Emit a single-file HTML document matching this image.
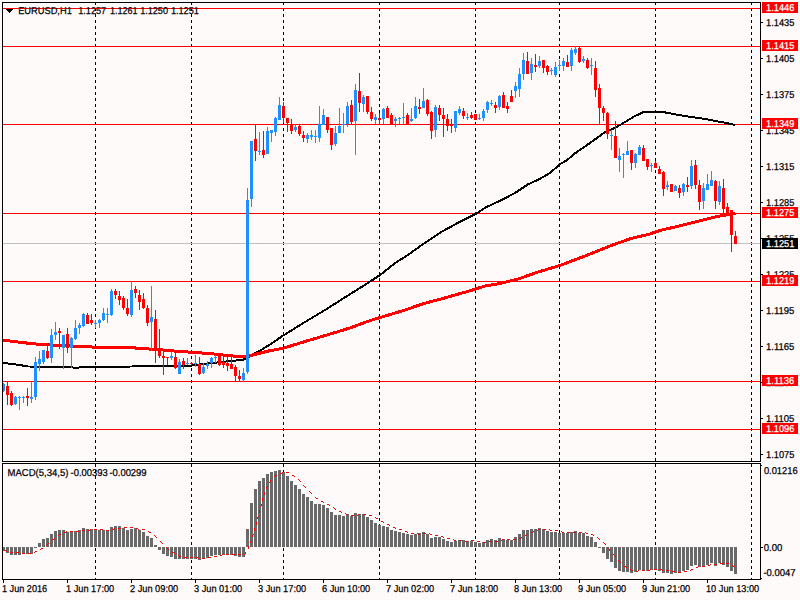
<!DOCTYPE html><html><head><meta charset="utf-8"><style>html,body{margin:0;padding:0;background:#FFFAFA;overflow:hidden}svg{display:block}text{font-family:"Liberation Sans", sans-serif;text-rendering:geometricPrecision}</style></head><body>
<svg width="800" height="600" viewBox="0 0 800 600">
<rect x="0" y="0" width="800" height="600" fill="#FFFAFA"/>
<g fill="#FFFFFF" shape-rendering="crispEdges">
<rect x="3" y="3" width="757" height="1"/><rect x="3" y="3" width="1" height="458"/>
<rect x="3" y="464" width="757" height="1"/><rect x="3" y="464" width="1" height="115"/>
</g>
<path fill="#000" shape-rendering="crispEdges" d="M95 3h1v2h-1zM95 8h1v3h-1zM95 14h1v3h-1zM95 20h1v3h-1zM95 26h1v3h-1zM95 32h1v3h-1zM95 38h1v3h-1zM95 44h1v3h-1zM95 50h1v3h-1zM95 56h1v3h-1zM95 62h1v3h-1zM95 68h1v3h-1zM95 74h1v3h-1zM95 80h1v3h-1zM95 86h1v3h-1zM95 92h1v3h-1zM95 98h1v3h-1zM95 104h1v3h-1zM95 110h1v3h-1zM95 116h1v3h-1zM95 122h1v3h-1zM95 128h1v3h-1zM95 134h1v3h-1zM95 140h1v3h-1zM95 146h1v3h-1zM95 152h1v3h-1zM95 158h1v3h-1zM95 164h1v3h-1zM95 170h1v3h-1zM95 176h1v3h-1zM95 182h1v3h-1zM95 188h1v3h-1zM95 194h1v3h-1zM95 200h1v3h-1zM95 206h1v3h-1zM95 212h1v3h-1zM95 218h1v3h-1zM95 224h1v3h-1zM95 230h1v3h-1zM95 236h1v3h-1zM95 242h1v3h-1zM95 248h1v3h-1zM95 254h1v3h-1zM95 260h1v3h-1zM95 266h1v3h-1zM95 272h1v3h-1zM95 278h1v3h-1zM95 284h1v3h-1zM95 290h1v3h-1zM95 296h1v3h-1zM95 302h1v3h-1zM95 308h1v3h-1zM95 314h1v3h-1zM95 320h1v3h-1zM95 326h1v3h-1zM95 332h1v3h-1zM95 338h1v3h-1zM95 344h1v3h-1zM95 350h1v3h-1zM95 356h1v3h-1zM95 362h1v3h-1zM95 368h1v3h-1zM95 374h1v3h-1zM95 380h1v3h-1zM95 386h1v3h-1zM95 392h1v3h-1zM95 398h1v3h-1zM95 404h1v3h-1zM95 410h1v3h-1zM95 416h1v3h-1zM95 422h1v3h-1zM95 428h1v3h-1zM95 434h1v3h-1zM95 440h1v3h-1zM95 446h1v3h-1zM95 452h1v3h-1zM95 458h1v3h-1zM95 464h1v3h-1zM95 470h1v3h-1zM95 476h1v3h-1zM95 482h1v3h-1zM95 488h1v3h-1zM95 494h1v3h-1zM95 500h1v3h-1zM95 506h1v3h-1zM95 512h1v3h-1zM95 518h1v3h-1zM95 524h1v3h-1zM95 530h1v3h-1zM95 536h1v3h-1zM95 542h1v3h-1zM95 548h1v3h-1zM95 554h1v3h-1zM95 560h1v3h-1zM95 566h1v3h-1zM95 572h1v3h-1zM95 578h1v1h-1zM191 3h1v2h-1zM191 8h1v3h-1zM191 14h1v3h-1zM191 20h1v3h-1zM191 26h1v3h-1zM191 32h1v3h-1zM191 38h1v3h-1zM191 44h1v3h-1zM191 50h1v3h-1zM191 56h1v3h-1zM191 62h1v3h-1zM191 68h1v3h-1zM191 74h1v3h-1zM191 80h1v3h-1zM191 86h1v3h-1zM191 92h1v3h-1zM191 98h1v3h-1zM191 104h1v3h-1zM191 110h1v3h-1zM191 116h1v3h-1zM191 122h1v3h-1zM191 128h1v3h-1zM191 134h1v3h-1zM191 140h1v3h-1zM191 146h1v3h-1zM191 152h1v3h-1zM191 158h1v3h-1zM191 164h1v3h-1zM191 170h1v3h-1zM191 176h1v3h-1zM191 182h1v3h-1zM191 188h1v3h-1zM191 194h1v3h-1zM191 200h1v3h-1zM191 206h1v3h-1zM191 212h1v3h-1zM191 218h1v3h-1zM191 224h1v3h-1zM191 230h1v3h-1zM191 236h1v3h-1zM191 242h1v3h-1zM191 248h1v3h-1zM191 254h1v3h-1zM191 260h1v3h-1zM191 266h1v3h-1zM191 272h1v3h-1zM191 278h1v3h-1zM191 284h1v3h-1zM191 290h1v3h-1zM191 296h1v3h-1zM191 302h1v3h-1zM191 308h1v3h-1zM191 314h1v3h-1zM191 320h1v3h-1zM191 326h1v3h-1zM191 332h1v3h-1zM191 338h1v3h-1zM191 344h1v3h-1zM191 350h1v3h-1zM191 356h1v3h-1zM191 362h1v3h-1zM191 368h1v3h-1zM191 374h1v3h-1zM191 380h1v3h-1zM191 386h1v3h-1zM191 392h1v3h-1zM191 398h1v3h-1zM191 404h1v3h-1zM191 410h1v3h-1zM191 416h1v3h-1zM191 422h1v3h-1zM191 428h1v3h-1zM191 434h1v3h-1zM191 440h1v3h-1zM191 446h1v3h-1zM191 452h1v3h-1zM191 458h1v3h-1zM191 464h1v3h-1zM191 470h1v3h-1zM191 476h1v3h-1zM191 482h1v3h-1zM191 488h1v3h-1zM191 494h1v3h-1zM191 500h1v3h-1zM191 506h1v3h-1zM191 512h1v3h-1zM191 518h1v3h-1zM191 524h1v3h-1zM191 530h1v3h-1zM191 536h1v3h-1zM191 542h1v3h-1zM191 548h1v3h-1zM191 554h1v3h-1zM191 560h1v3h-1zM191 566h1v3h-1zM191 572h1v3h-1zM191 578h1v1h-1zM283 3h1v2h-1zM283 8h1v3h-1zM283 14h1v3h-1zM283 20h1v3h-1zM283 26h1v3h-1zM283 32h1v3h-1zM283 38h1v3h-1zM283 44h1v3h-1zM283 50h1v3h-1zM283 56h1v3h-1zM283 62h1v3h-1zM283 68h1v3h-1zM283 74h1v3h-1zM283 80h1v3h-1zM283 86h1v3h-1zM283 92h1v3h-1zM283 98h1v3h-1zM283 104h1v3h-1zM283 110h1v3h-1zM283 116h1v3h-1zM283 122h1v3h-1zM283 128h1v3h-1zM283 134h1v3h-1zM283 140h1v3h-1zM283 146h1v3h-1zM283 152h1v3h-1zM283 158h1v3h-1zM283 164h1v3h-1zM283 170h1v3h-1zM283 176h1v3h-1zM283 182h1v3h-1zM283 188h1v3h-1zM283 194h1v3h-1zM283 200h1v3h-1zM283 206h1v3h-1zM283 212h1v3h-1zM283 218h1v3h-1zM283 224h1v3h-1zM283 230h1v3h-1zM283 236h1v3h-1zM283 242h1v3h-1zM283 248h1v3h-1zM283 254h1v3h-1zM283 260h1v3h-1zM283 266h1v3h-1zM283 272h1v3h-1zM283 278h1v3h-1zM283 284h1v3h-1zM283 290h1v3h-1zM283 296h1v3h-1zM283 302h1v3h-1zM283 308h1v3h-1zM283 314h1v3h-1zM283 320h1v3h-1zM283 326h1v3h-1zM283 332h1v3h-1zM283 338h1v3h-1zM283 344h1v3h-1zM283 350h1v3h-1zM283 356h1v3h-1zM283 362h1v3h-1zM283 368h1v3h-1zM283 374h1v3h-1zM283 380h1v3h-1zM283 386h1v3h-1zM283 392h1v3h-1zM283 398h1v3h-1zM283 404h1v3h-1zM283 410h1v3h-1zM283 416h1v3h-1zM283 422h1v3h-1zM283 428h1v3h-1zM283 434h1v3h-1zM283 440h1v3h-1zM283 446h1v3h-1zM283 452h1v3h-1zM283 458h1v3h-1zM283 464h1v3h-1zM283 470h1v3h-1zM283 476h1v3h-1zM283 482h1v3h-1zM283 488h1v3h-1zM283 494h1v3h-1zM283 500h1v3h-1zM283 506h1v3h-1zM283 512h1v3h-1zM283 518h1v3h-1zM283 524h1v3h-1zM283 530h1v3h-1zM283 536h1v3h-1zM283 542h1v3h-1zM283 548h1v3h-1zM283 554h1v3h-1zM283 560h1v3h-1zM283 566h1v3h-1zM283 572h1v3h-1zM283 578h1v1h-1zM379 3h1v2h-1zM379 8h1v3h-1zM379 14h1v3h-1zM379 20h1v3h-1zM379 26h1v3h-1zM379 32h1v3h-1zM379 38h1v3h-1zM379 44h1v3h-1zM379 50h1v3h-1zM379 56h1v3h-1zM379 62h1v3h-1zM379 68h1v3h-1zM379 74h1v3h-1zM379 80h1v3h-1zM379 86h1v3h-1zM379 92h1v3h-1zM379 98h1v3h-1zM379 104h1v3h-1zM379 110h1v3h-1zM379 116h1v3h-1zM379 122h1v3h-1zM379 128h1v3h-1zM379 134h1v3h-1zM379 140h1v3h-1zM379 146h1v3h-1zM379 152h1v3h-1zM379 158h1v3h-1zM379 164h1v3h-1zM379 170h1v3h-1zM379 176h1v3h-1zM379 182h1v3h-1zM379 188h1v3h-1zM379 194h1v3h-1zM379 200h1v3h-1zM379 206h1v3h-1zM379 212h1v3h-1zM379 218h1v3h-1zM379 224h1v3h-1zM379 230h1v3h-1zM379 236h1v3h-1zM379 242h1v3h-1zM379 248h1v3h-1zM379 254h1v3h-1zM379 260h1v3h-1zM379 266h1v3h-1zM379 272h1v3h-1zM379 278h1v3h-1zM379 284h1v3h-1zM379 290h1v3h-1zM379 296h1v3h-1zM379 302h1v3h-1zM379 308h1v3h-1zM379 314h1v3h-1zM379 320h1v3h-1zM379 326h1v3h-1zM379 332h1v3h-1zM379 338h1v3h-1zM379 344h1v3h-1zM379 350h1v3h-1zM379 356h1v3h-1zM379 362h1v3h-1zM379 368h1v3h-1zM379 374h1v3h-1zM379 380h1v3h-1zM379 386h1v3h-1zM379 392h1v3h-1zM379 398h1v3h-1zM379 404h1v3h-1zM379 410h1v3h-1zM379 416h1v3h-1zM379 422h1v3h-1zM379 428h1v3h-1zM379 434h1v3h-1zM379 440h1v3h-1zM379 446h1v3h-1zM379 452h1v3h-1zM379 458h1v3h-1zM379 464h1v3h-1zM379 470h1v3h-1zM379 476h1v3h-1zM379 482h1v3h-1zM379 488h1v3h-1zM379 494h1v3h-1zM379 500h1v3h-1zM379 506h1v3h-1zM379 512h1v3h-1zM379 518h1v3h-1zM379 524h1v3h-1zM379 530h1v3h-1zM379 536h1v3h-1zM379 542h1v3h-1zM379 548h1v3h-1zM379 554h1v3h-1zM379 560h1v3h-1zM379 566h1v3h-1zM379 572h1v3h-1zM379 578h1v1h-1zM475 3h1v2h-1zM475 8h1v3h-1zM475 14h1v3h-1zM475 20h1v3h-1zM475 26h1v3h-1zM475 32h1v3h-1zM475 38h1v3h-1zM475 44h1v3h-1zM475 50h1v3h-1zM475 56h1v3h-1zM475 62h1v3h-1zM475 68h1v3h-1zM475 74h1v3h-1zM475 80h1v3h-1zM475 86h1v3h-1zM475 92h1v3h-1zM475 98h1v3h-1zM475 104h1v3h-1zM475 110h1v3h-1zM475 116h1v3h-1zM475 122h1v3h-1zM475 128h1v3h-1zM475 134h1v3h-1zM475 140h1v3h-1zM475 146h1v3h-1zM475 152h1v3h-1zM475 158h1v3h-1zM475 164h1v3h-1zM475 170h1v3h-1zM475 176h1v3h-1zM475 182h1v3h-1zM475 188h1v3h-1zM475 194h1v3h-1zM475 200h1v3h-1zM475 206h1v3h-1zM475 212h1v3h-1zM475 218h1v3h-1zM475 224h1v3h-1zM475 230h1v3h-1zM475 236h1v3h-1zM475 242h1v3h-1zM475 248h1v3h-1zM475 254h1v3h-1zM475 260h1v3h-1zM475 266h1v3h-1zM475 272h1v3h-1zM475 278h1v3h-1zM475 284h1v3h-1zM475 290h1v3h-1zM475 296h1v3h-1zM475 302h1v3h-1zM475 308h1v3h-1zM475 314h1v3h-1zM475 320h1v3h-1zM475 326h1v3h-1zM475 332h1v3h-1zM475 338h1v3h-1zM475 344h1v3h-1zM475 350h1v3h-1zM475 356h1v3h-1zM475 362h1v3h-1zM475 368h1v3h-1zM475 374h1v3h-1zM475 380h1v3h-1zM475 386h1v3h-1zM475 392h1v3h-1zM475 398h1v3h-1zM475 404h1v3h-1zM475 410h1v3h-1zM475 416h1v3h-1zM475 422h1v3h-1zM475 428h1v3h-1zM475 434h1v3h-1zM475 440h1v3h-1zM475 446h1v3h-1zM475 452h1v3h-1zM475 458h1v3h-1zM475 464h1v3h-1zM475 470h1v3h-1zM475 476h1v3h-1zM475 482h1v3h-1zM475 488h1v3h-1zM475 494h1v3h-1zM475 500h1v3h-1zM475 506h1v3h-1zM475 512h1v3h-1zM475 518h1v3h-1zM475 524h1v3h-1zM475 530h1v3h-1zM475 536h1v3h-1zM475 542h1v3h-1zM475 548h1v3h-1zM475 554h1v3h-1zM475 560h1v3h-1zM475 566h1v3h-1zM475 572h1v3h-1zM475 578h1v1h-1zM559 3h1v2h-1zM559 8h1v3h-1zM559 14h1v3h-1zM559 20h1v3h-1zM559 26h1v3h-1zM559 32h1v3h-1zM559 38h1v3h-1zM559 44h1v3h-1zM559 50h1v3h-1zM559 56h1v3h-1zM559 62h1v3h-1zM559 68h1v3h-1zM559 74h1v3h-1zM559 80h1v3h-1zM559 86h1v3h-1zM559 92h1v3h-1zM559 98h1v3h-1zM559 104h1v3h-1zM559 110h1v3h-1zM559 116h1v3h-1zM559 122h1v3h-1zM559 128h1v3h-1zM559 134h1v3h-1zM559 140h1v3h-1zM559 146h1v3h-1zM559 152h1v3h-1zM559 158h1v3h-1zM559 164h1v3h-1zM559 170h1v3h-1zM559 176h1v3h-1zM559 182h1v3h-1zM559 188h1v3h-1zM559 194h1v3h-1zM559 200h1v3h-1zM559 206h1v3h-1zM559 212h1v3h-1zM559 218h1v3h-1zM559 224h1v3h-1zM559 230h1v3h-1zM559 236h1v3h-1zM559 242h1v3h-1zM559 248h1v3h-1zM559 254h1v3h-1zM559 260h1v3h-1zM559 266h1v3h-1zM559 272h1v3h-1zM559 278h1v3h-1zM559 284h1v3h-1zM559 290h1v3h-1zM559 296h1v3h-1zM559 302h1v3h-1zM559 308h1v3h-1zM559 314h1v3h-1zM559 320h1v3h-1zM559 326h1v3h-1zM559 332h1v3h-1zM559 338h1v3h-1zM559 344h1v3h-1zM559 350h1v3h-1zM559 356h1v3h-1zM559 362h1v3h-1zM559 368h1v3h-1zM559 374h1v3h-1zM559 380h1v3h-1zM559 386h1v3h-1zM559 392h1v3h-1zM559 398h1v3h-1zM559 404h1v3h-1zM559 410h1v3h-1zM559 416h1v3h-1zM559 422h1v3h-1zM559 428h1v3h-1zM559 434h1v3h-1zM559 440h1v3h-1zM559 446h1v3h-1zM559 452h1v3h-1zM559 458h1v3h-1zM559 464h1v3h-1zM559 470h1v3h-1zM559 476h1v3h-1zM559 482h1v3h-1zM559 488h1v3h-1zM559 494h1v3h-1zM559 500h1v3h-1zM559 506h1v3h-1zM559 512h1v3h-1zM559 518h1v3h-1zM559 524h1v3h-1zM559 530h1v3h-1zM559 536h1v3h-1zM559 542h1v3h-1zM559 548h1v3h-1zM559 554h1v3h-1zM559 560h1v3h-1zM559 566h1v3h-1zM559 572h1v3h-1zM559 578h1v1h-1zM655 3h1v2h-1zM655 8h1v3h-1zM655 14h1v3h-1zM655 20h1v3h-1zM655 26h1v3h-1zM655 32h1v3h-1zM655 38h1v3h-1zM655 44h1v3h-1zM655 50h1v3h-1zM655 56h1v3h-1zM655 62h1v3h-1zM655 68h1v3h-1zM655 74h1v3h-1zM655 80h1v3h-1zM655 86h1v3h-1zM655 92h1v3h-1zM655 98h1v3h-1zM655 104h1v3h-1zM655 110h1v3h-1zM655 116h1v3h-1zM655 122h1v3h-1zM655 128h1v3h-1zM655 134h1v3h-1zM655 140h1v3h-1zM655 146h1v3h-1zM655 152h1v3h-1zM655 158h1v3h-1zM655 164h1v3h-1zM655 170h1v3h-1zM655 176h1v3h-1zM655 182h1v3h-1zM655 188h1v3h-1zM655 194h1v3h-1zM655 200h1v3h-1zM655 206h1v3h-1zM655 212h1v3h-1zM655 218h1v3h-1zM655 224h1v3h-1zM655 230h1v3h-1zM655 236h1v3h-1zM655 242h1v3h-1zM655 248h1v3h-1zM655 254h1v3h-1zM655 260h1v3h-1zM655 266h1v3h-1zM655 272h1v3h-1zM655 278h1v3h-1zM655 284h1v3h-1zM655 290h1v3h-1zM655 296h1v3h-1zM655 302h1v3h-1zM655 308h1v3h-1zM655 314h1v3h-1zM655 320h1v3h-1zM655 326h1v3h-1zM655 332h1v3h-1zM655 338h1v3h-1zM655 344h1v3h-1zM655 350h1v3h-1zM655 356h1v3h-1zM655 362h1v3h-1zM655 368h1v3h-1zM655 374h1v3h-1zM655 380h1v3h-1zM655 386h1v3h-1zM655 392h1v3h-1zM655 398h1v3h-1zM655 404h1v3h-1zM655 410h1v3h-1zM655 416h1v3h-1zM655 422h1v3h-1zM655 428h1v3h-1zM655 434h1v3h-1zM655 440h1v3h-1zM655 446h1v3h-1zM655 452h1v3h-1zM655 458h1v3h-1zM655 464h1v3h-1zM655 470h1v3h-1zM655 476h1v3h-1zM655 482h1v3h-1zM655 488h1v3h-1zM655 494h1v3h-1zM655 500h1v3h-1zM655 506h1v3h-1zM655 512h1v3h-1zM655 518h1v3h-1zM655 524h1v3h-1zM655 530h1v3h-1zM655 536h1v3h-1zM655 542h1v3h-1zM655 548h1v3h-1zM655 554h1v3h-1zM655 560h1v3h-1zM655 566h1v3h-1zM655 572h1v3h-1zM655 578h1v1h-1zM751 3h1v2h-1zM751 8h1v3h-1zM751 14h1v3h-1zM751 20h1v3h-1zM751 26h1v3h-1zM751 32h1v3h-1zM751 38h1v3h-1zM751 44h1v3h-1zM751 50h1v3h-1zM751 56h1v3h-1zM751 62h1v3h-1zM751 68h1v3h-1zM751 74h1v3h-1zM751 80h1v3h-1zM751 86h1v3h-1zM751 92h1v3h-1zM751 98h1v3h-1zM751 104h1v3h-1zM751 110h1v3h-1zM751 116h1v3h-1zM751 122h1v3h-1zM751 128h1v3h-1zM751 134h1v3h-1zM751 140h1v3h-1zM751 146h1v3h-1zM751 152h1v3h-1zM751 158h1v3h-1zM751 164h1v3h-1zM751 170h1v3h-1zM751 176h1v3h-1zM751 182h1v3h-1zM751 188h1v3h-1zM751 194h1v3h-1zM751 200h1v3h-1zM751 206h1v3h-1zM751 212h1v3h-1zM751 218h1v3h-1zM751 224h1v3h-1zM751 230h1v3h-1zM751 236h1v3h-1zM751 242h1v3h-1zM751 248h1v3h-1zM751 254h1v3h-1zM751 260h1v3h-1zM751 266h1v3h-1zM751 272h1v3h-1zM751 278h1v3h-1zM751 284h1v3h-1zM751 290h1v3h-1zM751 296h1v3h-1zM751 302h1v3h-1zM751 308h1v3h-1zM751 314h1v3h-1zM751 320h1v3h-1zM751 326h1v3h-1zM751 332h1v3h-1zM751 338h1v3h-1zM751 344h1v3h-1zM751 350h1v3h-1zM751 356h1v3h-1zM751 362h1v3h-1zM751 368h1v3h-1zM751 374h1v3h-1zM751 380h1v3h-1zM751 386h1v3h-1zM751 392h1v3h-1zM751 398h1v3h-1zM751 404h1v3h-1zM751 410h1v3h-1zM751 416h1v3h-1zM751 422h1v3h-1zM751 428h1v3h-1zM751 434h1v3h-1zM751 440h1v3h-1zM751 446h1v3h-1zM751 452h1v3h-1zM751 458h1v3h-1zM751 464h1v3h-1zM751 470h1v3h-1zM751 476h1v3h-1zM751 482h1v3h-1zM751 488h1v3h-1zM751 494h1v3h-1zM751 500h1v3h-1zM751 506h1v3h-1zM751 512h1v3h-1zM751 518h1v3h-1zM751 524h1v3h-1zM751 530h1v3h-1zM751 536h1v3h-1zM751 542h1v3h-1zM751 548h1v3h-1zM751 554h1v3h-1zM751 560h1v3h-1zM751 566h1v3h-1zM751 572h1v3h-1zM751 578h1v1h-1z"/>
<g fill="#FF0000" shape-rendering="crispEdges">
<rect x="3" y="8" width="757" height="1"/>
<rect x="3" y="46" width="757" height="1"/>
<rect x="3" y="124" width="757" height="1"/>
<rect x="3" y="213" width="757" height="1"/>
<rect x="3" y="281" width="757" height="1"/>
<rect x="3" y="381" width="757" height="1"/>
<rect x="3" y="429" width="757" height="1"/>
</g>
<rect x="3" y="243" width="757" height="1" fill="#C0C0C0" shape-rendering="crispEdges"/>
<polyline points="2.0,363.2 7.0,363.4 19.5,365.0 28.2,366.5 65.0,366.8 76.0,367.8 86.0,366.8 132.0,366.5 180.0,366.0 191.4,365.6 204.5,364.0 216.8,362.5 232.5,360.8 243.0,359.8 247.5,357.8 255.0,353.0 262.0,349.5 270.0,344.5 283.2,335.5 305.0,322.0 327.5,308.5 350.0,294.2 370.2,281.5 380.0,275.0 395.0,263.2 410.0,253.5 425.0,242.7 443.0,231.0 461.0,221.2 476.0,213.8 485.0,207.8 500.0,200.7 514.6,193.3 528.1,184.3 539.4,179.2 550.6,172.5 559.5,164.5 567.0,160.2 573.8,154.2 581.2,149.0 588.8,143.8 596.2,138.5 604.5,132.5 616.7,127.0 623.3,123.0 635.0,116.0 644.3,111.8 661.8,111.8 681.6,115.5 705.0,119.0 723.6,122.5 735.3,124.9" fill="none" stroke="#000" stroke-width="2" stroke-linejoin="round" shape-rendering="crispEdges"/>
<polyline points="2.0,340.0 21.5,342.5 41.0,344.5 81.0,346.5 102.0,347.5 130.0,347.6 163.0,350.0 180.0,351.5 196.0,352.5 213.8,354.0 232.5,356.0 243.8,357.0 247.5,356.2 255.0,354.4 267.5,351.2 283.2,348.2 305.0,341.5 327.5,334.8 350.0,328.0 370.2,320.5 380.0,317.6 402.5,310.8 425.0,303.2 447.5,297.2 470.0,290.8 485.0,286.0 500.0,283.5 518.8,278.8 537.5,272.2 559.6,265.6 584.4,256.2 612.5,245.0 631.2,238.4 650.0,234.0 659.4,230.6 673.7,227.3 688.1,223.8 702.5,220.1 716.8,216.5 725.5,215.1 735.5,213.7" fill="none" stroke="#FF0000" stroke-width="3" stroke-linejoin="round" shape-rendering="crispEdges"/>
<path fill="#1E90FF" shape-rendering="crispEdges" d="M3 383h1v9h-1zM3 384h2v7h-2zM15 396h1v9h-1zM14 397h3v7h-3zM19 396h1v14h-1zM18 397h3v1h-3zM23 396h1v7h-1zM22 397h3v1h-3zM31 382h1v21h-1zM30 397h3v2h-3zM35 357h1v43h-1zM34 362h3v35h-3zM39 351h1v20h-1zM38 359h3v5h-3zM43 350h1v14h-1zM42 350h3v12h-3zM51 329h1v34h-1zM50 335h3v23h-3zM55 322h1v18h-1zM54 332h3v3h-3zM63 335h1v34h-1zM62 335h3v13h-3zM71 337h1v31h-1zM70 338h3v10h-3zM75 320h1v20h-1zM74 328h3v11h-3zM79 323h1v11h-1zM78 325h3v3h-3zM83 313h1v14h-1zM82 314h3v12h-3zM95 320h1v8h-1zM94 323h3v1h-3zM99 319h1v9h-1zM98 320h3v3h-3zM103 308h1v13h-1zM102 313h3v7h-3zM107 308h1v15h-1zM106 314h3v1h-3zM111 289h1v27h-1zM110 291h3v24h-3zM131 281h1v36h-1zM130 290h3v25h-3zM151 286h1v65h-1zM150 317h3v5h-3zM171 352h1v8h-1zM170 356h3v2h-3zM179 359h1v15h-1zM178 362h3v12h-3zM187 358h1v7h-1zM186 363h3v1h-3zM195 355h1v12h-1zM194 363h3v1h-3zM203 363h1v11h-1zM202 367h3v6h-3zM207 361h1v8h-1zM206 364h3v2h-3zM211 357h1v11h-1zM210 358h3v5h-3zM215 355h1v8h-1zM214 357h3v1h-3zM243 368h1v14h-1zM242 373h3v7h-3zM247 188h1v186h-1zM246 200h3v172h-3zM251 141h1v66h-1zM250 141h3v58h-3zM259 132h1v23h-1zM258 151h3v1h-3zM267 127h1v27h-1zM266 131h3v23h-3zM271 130h1v12h-1zM270 130h3v3h-3zM275 117h1v19h-1zM274 118h3v14h-3zM279 97h1v23h-1zM278 105h3v15h-3zM295 124h1v8h-1zM294 127h3v3h-3zM307 133h1v10h-1zM306 135h3v4h-3zM311 130h1v10h-1zM310 135h3v2h-3zM315 130h1v13h-1zM314 136h3v1h-3zM319 106h1v36h-1zM318 124h3v14h-3zM323 109h1v16h-1zM322 115h3v10h-3zM335 126h1v20h-1zM334 133h3v11h-3zM339 108h1v25h-1zM338 126h3v7h-3zM343 113h1v20h-1zM342 124h3v1h-3zM347 102h1v25h-1zM346 106h3v18h-3zM355 84h1v71h-1zM354 90h3v31h-3zM363 95h1v17h-1zM362 97h3v7h-3zM375 114h1v10h-1zM374 117h3v3h-3zM383 108h1v16h-1zM382 109h3v10h-3zM395 117h1v10h-1zM394 119h3v2h-3zM399 117h1v7h-1zM398 118h3v1h-3zM403 103h1v21h-1zM402 117h3v1h-3zM411 108h1v14h-1zM410 119h3v2h-3zM415 97h1v22h-1zM414 106h3v12h-3zM423 88h1v20h-1zM422 101h3v7h-3zM435 105h1v32h-1zM434 107h3v23h-3zM455 111h1v21h-1zM454 111h3v17h-3zM459 106h1v9h-1zM458 109h3v4h-3zM467 113h1v7h-1zM466 117h3v1h-3zM479 114h1v6h-1zM478 118h3v1h-3zM483 109h1v12h-1zM482 111h3v7h-3zM487 101h1v12h-1zM486 102h3v8h-3zM491 100h1v6h-1zM490 103h3v1h-3zM499 95h1v15h-1zM498 96h3v11h-3zM515 82h1v16h-1zM514 86h3v5h-3zM519 68h1v29h-1zM518 74h3v15h-3zM523 53h1v27h-1zM522 60h3v14h-3zM531 58h1v22h-1zM530 64h3v9h-3zM539 56h1v12h-1zM538 61h3v5h-3zM551 68h1v7h-1zM550 70h3v1h-3zM555 62h1v15h-1zM554 67h3v8h-3zM559 60h1v11h-1zM558 65h3v1h-3zM563 58h1v13h-1zM562 61h3v5h-3zM571 48h1v23h-1zM570 50h3v16h-3zM575 46h1v9h-1zM574 49h3v4h-3zM583 56h1v7h-1zM582 59h3v2h-3zM591 58h1v17h-1zM590 65h3v1h-3zM611 130h1v20h-1zM610 135h3v1h-3zM619 148h1v24h-1zM618 156h3v4h-3zM623 153h1v25h-1zM622 154h3v1h-3zM627 141h1v14h-1zM626 151h3v4h-3zM635 153h1v15h-1zM634 154h3v9h-3zM639 145h1v10h-1zM638 147h3v8h-3zM651 163h1v9h-1zM650 165h3v1h-3zM667 181h1v9h-1zM666 185h3v2h-3zM675 185h1v6h-1zM674 186h3v5h-3zM683 183h1v13h-1zM682 184h3v8h-3zM691 160h1v29h-1zM690 166h3v20h-3zM703 183h1v26h-1zM702 188h3v13h-3zM707 174h1v16h-1zM706 184h3v6h-3zM711 171h1v15h-1zM710 180h3v6h-3zM719 181h1v24h-1zM718 186h3v16h-3z"/>
<path fill="#FF0000" shape-rendering="crispEdges" d="M7 382h1v23h-1zM6 386h3v9h-3zM11 391h1v15h-1zM10 393h3v12h-3zM27 388h1v18h-1zM26 396h3v2h-3zM47 346h1v13h-1zM46 351h3v7h-3zM59 328h1v21h-1zM58 331h3v2h-3zM67 328h1v25h-1zM66 334h3v14h-3zM87 313h1v11h-1zM86 315h3v9h-3zM91 314h1v11h-1zM90 320h3v3h-3zM115 289h1v10h-1zM114 291h3v4h-3zM119 291h1v14h-1zM118 296h3v4h-3zM123 296h1v14h-1zM122 298h3v10h-3zM127 299h1v17h-1zM126 308h3v6h-3zM135 286h1v12h-1zM134 289h3v4h-3zM139 290h1v20h-1zM138 295h3v7h-3zM143 293h1v16h-1zM142 299h3v9h-3zM147 305h1v21h-1zM146 308h3v15h-3zM155 310h1v53h-1zM154 319h3v32h-3zM159 329h1v29h-1zM158 351h3v5h-3zM163 351h1v24h-1zM162 356h3v2h-3zM167 357h1v8h-1zM166 357h3v1h-3zM175 352h1v17h-1zM174 357h3v11h-3zM183 358h1v11h-1zM182 361h3v4h-3zM191 362h1v3h-1zM190 363h3v1h-3zM199 357h1v18h-1zM198 364h3v10h-3zM219 354h1v12h-1zM218 356h3v9h-3zM223 354h1v14h-1zM222 362h3v3h-3zM227 354h1v17h-1zM226 363h3v3h-3zM231 354h1v15h-1zM230 364h3v5h-3zM235 365h1v16h-1zM234 367h3v9h-3zM239 370h1v11h-1zM238 376h3v3h-3zM255 124h1v37h-1zM254 139h3v12h-3zM263 131h1v27h-1zM262 150h3v5h-3zM283 102h1v21h-1zM282 106h3v12h-3zM287 118h1v14h-1zM286 118h3v5h-3zM291 119h1v15h-1zM290 124h3v7h-3zM299 125h1v11h-1zM298 126h3v8h-3zM303 131h1v11h-1zM302 135h3v3h-3zM327 117h1v16h-1zM326 117h3v13h-3zM331 128h1v22h-1zM330 128h3v17h-3zM351 100h1v24h-1zM350 105h3v17h-3zM359 73h1v39h-1zM358 91h3v12h-3zM367 96h1v18h-1zM366 96h3v16h-3zM371 107h1v14h-1zM370 112h3v7h-3zM379 113h1v11h-1zM378 118h3v2h-3zM387 106h1v12h-1zM386 108h3v10h-3zM391 113h1v11h-1zM390 115h3v9h-3zM407 113h1v11h-1zM406 115h3v9h-3zM419 99h1v15h-1zM418 107h3v2h-3zM427 99h1v17h-1zM426 100h3v14h-3zM431 111h1v28h-1zM430 112h3v19h-3zM439 105h1v16h-1zM438 108h3v7h-3zM443 108h1v29h-1zM442 115h3v4h-3zM447 114h1v17h-1zM446 119h3v7h-3zM451 119h1v14h-1zM450 124h3v2h-3zM463 108h1v11h-1zM462 111h3v5h-3zM471 112h1v7h-1zM470 115h3v3h-3zM475 114h1v6h-1zM474 114h3v6h-3zM495 102h1v11h-1zM494 105h3v3h-3zM503 92h1v16h-1zM502 95h3v13h-3zM507 102h1v11h-1zM506 106h3v3h-3zM511 90h1v12h-1zM510 96h3v6h-3zM527 52h1v22h-1zM526 61h3v13h-3zM535 54h1v18h-1zM534 65h3v2h-3zM543 60h1v13h-1zM542 60h3v8h-3zM547 65h1v10h-1zM546 66h3v6h-3zM567 55h1v12h-1zM566 62h3v5h-3zM579 46h1v17h-1zM578 48h3v14h-3zM587 58h1v11h-1zM586 60h3v8h-3zM595 61h1v36h-1zM594 68h3v22h-3zM599 84h1v40h-1zM598 88h3v20h-3zM603 106h1v15h-1zM602 108h3v5h-3zM607 112h1v27h-1zM606 113h3v21h-3zM615 121h1v37h-1zM614 136h3v22h-3zM631 150h1v20h-1zM630 150h3v13h-3zM643 145h1v16h-1zM642 148h3v13h-3zM647 159h1v11h-1zM646 159h3v8h-3zM655 161h1v7h-1zM654 163h3v5h-3zM659 166h1v8h-1zM658 169h3v5h-3zM663 171h1v25h-1zM662 172h3v17h-3zM671 184h1v8h-1zM670 184h3v8h-3zM679 185h1v13h-1zM678 188h3v5h-3zM687 177h1v15h-1zM686 185h3v2h-3zM695 160h1v29h-1zM694 165h3v20h-3zM699 180h1v30h-1zM698 185h3v17h-3zM715 180h1v29h-1zM714 181h3v20h-3zM723 179h1v36h-1zM722 188h3v21h-3zM727 203h1v12h-1zM726 207h3v7h-3zM731 210h1v42h-1zM730 210h3v25h-3zM735 231h1v13h-1zM734 236h3v8h-3z"/>
<path fill="#696969" shape-rendering="crispEdges" d="M2 547h3v4h-3zM6 547h3v6h-3zM10 547h3v8h-3zM14 547h3v8h-3zM18 547h3v8h-3zM22 547h3v7h-3zM26 547h3v7h-3zM30 547h3v7h-3zM34 547h3v1h-3zM38 543h3v4h-3zM42 539h3v8h-3zM46 538h3v9h-3zM50 534h3v13h-3zM54 531h3v16h-3zM58 530h3v17h-3zM62 530h3v17h-3zM66 532h3v15h-3zM70 532h3v15h-3zM74 531h3v16h-3zM78 530h3v17h-3zM82 528h3v19h-3zM86 529h3v18h-3zM90 529h3v18h-3zM94 530h3v17h-3zM98 530h3v17h-3zM102 530h3v17h-3zM106 530h3v17h-3zM110 527h3v20h-3zM114 526h3v21h-3zM118 526h3v21h-3zM122 528h3v19h-3zM126 530h3v17h-3zM130 529h3v18h-3zM134 528h3v19h-3zM138 530h3v17h-3zM142 532h3v15h-3zM146 536h3v11h-3zM150 538h3v9h-3zM154 545h3v2h-3zM158 547h3v3h-3zM162 547h3v7h-3zM166 547h3v9h-3zM170 547h3v10h-3zM174 547h3v12h-3zM178 547h3v12h-3zM182 547h3v12h-3zM186 547h3v12h-3zM190 547h3v12h-3zM194 547h3v12h-3zM198 547h3v13h-3zM202 547h3v12h-3zM206 547h3v11h-3zM210 547h3v9h-3zM214 547h3v8h-3zM218 547h3v8h-3zM222 547h3v8h-3zM226 547h3v8h-3zM230 547h3v8h-3zM234 547h3v9h-3zM238 547h3v10h-3zM242 547h3v10h-3zM246 529h3v18h-3zM250 503h3v44h-3zM254 489h3v58h-3zM258 481h3v66h-3zM262 478h3v69h-3zM266 474h3v73h-3zM270 472h3v75h-3zM274 471h3v76h-3zM278 470h3v77h-3zM282 472h3v75h-3zM286 476h3v71h-3zM290 481h3v66h-3zM294 485h3v62h-3zM298 489h3v58h-3zM302 494h3v53h-3zM306 497h3v50h-3zM310 501h3v46h-3zM314 504h3v43h-3zM318 504h3v43h-3zM322 505h3v42h-3zM326 508h3v39h-3zM330 512h3v35h-3zM334 515h3v32h-3zM338 515h3v32h-3zM342 516h3v31h-3zM346 514h3v33h-3zM350 516h3v31h-3zM354 513h3v34h-3zM358 514h3v33h-3zM362 514h3v33h-3zM366 517h3v30h-3zM370 520h3v27h-3zM374 523h3v24h-3zM378 525h3v22h-3zM382 526h3v21h-3zM386 527h3v20h-3zM390 530h3v17h-3zM394 531h3v16h-3zM398 532h3v15h-3zM402 533h3v14h-3zM406 534h3v13h-3zM410 535h3v12h-3zM414 534h3v13h-3zM418 533h3v14h-3zM422 532h3v15h-3zM426 534h3v13h-3zM430 538h3v9h-3zM434 537h3v10h-3zM438 537h3v10h-3zM442 539h3v8h-3zM446 541h3v6h-3zM450 542h3v5h-3zM454 541h3v6h-3zM458 540h3v7h-3zM462 540h3v7h-3zM466 541h3v6h-3zM470 541h3v6h-3zM474 542h3v5h-3zM478 543h3v4h-3zM482 542h3v5h-3zM486 540h3v7h-3zM490 539h3v8h-3zM494 540h3v7h-3zM498 538h3v9h-3zM502 539h3v8h-3zM506 540h3v7h-3zM510 540h3v7h-3zM514 537h3v10h-3zM518 534h3v13h-3zM522 530h3v17h-3zM526 530h3v17h-3zM530 529h3v18h-3zM534 529h3v18h-3zM538 528h3v19h-3zM542 529h3v18h-3zM546 531h3v16h-3zM550 532h3v15h-3zM554 532h3v15h-3zM558 533h3v14h-3zM562 533h3v14h-3zM566 533h3v14h-3zM570 532h3v15h-3zM574 531h3v16h-3zM578 533h3v14h-3zM582 533h3v14h-3zM586 536h3v11h-3zM590 537h3v10h-3zM594 542h3v5h-3zM598 547h3v1h-3zM602 547h3v6h-3zM606 547h3v12h-3zM610 547h3v15h-3zM614 547h3v21h-3zM618 547h3v24h-3zM622 547h3v25h-3zM626 547h3v25h-3zM630 547h3v26h-3zM634 547h3v25h-3zM638 547h3v23h-3zM642 547h3v24h-3zM646 547h3v24h-3zM650 547h3v23h-3zM654 547h3v23h-3zM658 547h3v24h-3zM662 547h3v26h-3zM666 547h3v26h-3zM670 547h3v27h-3zM674 547h3v26h-3zM678 547h3v25h-3zM682 547h3v24h-3zM686 547h3v23h-3zM690 547h3v19h-3zM694 547h3v18h-3zM698 547h3v20h-3zM702 547h3v20h-3zM706 547h3v18h-3zM710 547h3v16h-3zM714 547h3v19h-3zM718 547h3v16h-3zM722 547h3v18h-3zM726 547h3v20h-3zM730 547h3v24h-3zM734 547h3v27h-3z"/>
<path fill="#FF0000" shape-rendering="crispEdges" d="M4 550h1v1h-1zM5 550h1v1h-1zM6 551h1v1h-1zM10 552h1v1h-1zM11 552h1v1h-1zM12 552h1v1h-1zM16 552h1v1h-1zM17 552h1v1h-1zM18 552h1v1h-1zM22 553h1v1h-1zM23 553h1v1h-1zM24 553h1v1h-1zM28 553h1v1h-1zM29 553h1v1h-1zM30 553h1v1h-1zM34 552h1v1h-1zM35 551h1v1h-1zM36 551h1v1h-1zM40 549h1v1h-1zM41 548h1v1h-1zM42 548h1v1h-1zM46 545h1v1h-1zM47 544h1v1h-1zM48 543h1v1h-1zM52 539h1v1h-1zM53 539h1v1h-1zM54 538h1v1h-1zM58 535h1v1h-1zM59 534h1v1h-1zM60 534h1v1h-1zM64 532h1v1h-1zM65 532h1v1h-1zM66 531h1v1h-1zM70 531h1v1h-1zM71 531h1v1h-1zM72 531h1v1h-1zM76 531h1v1h-1zM77 531h1v1h-1zM78 531h1v1h-1zM82 530h1v1h-1zM83 530h1v1h-1zM84 530h1v1h-1zM88 530h1v1h-1zM89 530h1v1h-1zM90 529h1v1h-1zM94 529h1v1h-1zM95 529h1v1h-1zM96 529h1v1h-1zM100 529h1v1h-1zM101 529h1v1h-1zM102 529h1v1h-1zM106 530h1v1h-1zM107 530h1v1h-1zM108 530h1v1h-1zM112 529h1v1h-1zM113 529h1v1h-1zM114 528h1v1h-1zM118 528h1v1h-1zM119 528h1v1h-1zM120 528h1v1h-1zM124 527h1v1h-1zM125 527h1v1h-1zM126 527h1v1h-1zM130 527h1v1h-1zM131 527h1v1h-1zM132 527h1v1h-1zM136 528h1v1h-1zM137 528h1v1h-1zM138 529h1v1h-1zM142 529h1v1h-1zM143 529h1v1h-1zM144 529h1v1h-1zM148 531h1v1h-1zM149 532h1v1h-1zM150 532h1v1h-1zM154 535h1v1h-1zM155 536h1v1h-1zM156 537h1v1h-1zM160 541h1v1h-1zM161 542h1v1h-1zM162 543h1v1h-1zM166 547h1v1h-1zM167 548h1v1h-1zM168 549h1v1h-1zM172 552h1v1h-1zM173 552h1v1h-1zM174 553h1v1h-1zM178 555h1v1h-1zM179 556h1v1h-1zM180 556h1v1h-1zM184 557h1v1h-1zM185 557h1v1h-1zM186 557h1v1h-1zM190 557h1v1h-1zM191 557h1v1h-1zM192 557h1v1h-1zM196 557h1v1h-1zM197 557h1v1h-1zM198 558h1v1h-1zM202 558h1v1h-1zM203 558h1v1h-1zM204 558h1v1h-1zM208 557h1v1h-1zM209 557h1v1h-1zM210 557h1v1h-1zM214 556h1v1h-1zM215 556h1v1h-1zM216 556h1v1h-1zM220 555h1v1h-1zM221 555h1v1h-1zM222 554h1v1h-1zM226 554h1v1h-1zM227 554h1v1h-1zM228 554h1v1h-1zM232 554h1v1h-1zM233 554h1v1h-1zM234 554h1v1h-1zM238 554h1v1h-1zM239 554h1v1h-1zM240 554h1v1h-1zM244 554h1v1h-1zM245 553h1v1h-1zM245 552h1v1h-1zM248 548h1v1h-1zM248 547h1v1h-1zM248 546h1v1h-1zM250 542h1v1h-1zM250 541h1v1h-1zM251 540h1v1h-1zM252 536h1v1h-1zM252 535h1v1h-1zM253 534h1v1h-1zM254 530h1v1h-1zM254 529h1v1h-1zM254 528h1v1h-1zM256 524h1v1h-1zM256 523h1v1h-1zM256 522h1v1h-1zM257 518h1v1h-1zM257 517h1v1h-1zM258 516h1v1h-1zM259 512h1v1h-1zM259 511h1v1h-1zM259 510h1v1h-1zM260 506h1v1h-1zM261 505h1v1h-1zM261 504h1v1h-1zM262 500h1v1h-1zM262 499h1v1h-1zM262 498h1v1h-1zM264 494h1v1h-1zM264 493h1v1h-1zM264 492h1v1h-1zM266 488h1v1h-1zM266 487h1v1h-1zM267 486h1v1h-1zM269 482h1v1h-1zM270 481h1v1h-1zM270 480h1v1h-1zM274 476h1v1h-1zM275 475h1v1h-1zM276 475h1v1h-1zM280 473h1v1h-1zM281 473h1v1h-1zM282 472h1v1h-1zM286 472h1v1h-1zM287 472h1v1h-1zM288 472h1v1h-1zM292 475h1v1h-1zM293 475h1v1h-1zM294 476h1v1h-1zM298 479h1v1h-1zM299 480h1v1h-1zM300 481h1v1h-1zM303 485h1v1h-1zM304 486h1v1h-1zM305 487h1v1h-1zM309 491h1v1h-1zM310 492h1v1h-1zM311 493h1v1h-1zM315 497h1v1h-1zM316 498h1v1h-1zM317 498h1v1h-1zM321 501h1v1h-1zM322 501h1v1h-1zM323 502h1v1h-1zM327 504h1v1h-1zM328 504h1v1h-1zM329 505h1v1h-1zM333 507h1v1h-1zM334 508h1v1h-1zM335 509h1v1h-1zM339 511h1v1h-1zM340 511h1v1h-1zM341 512h1v1h-1zM345 513h1v1h-1zM346 514h1v1h-1zM347 514h1v1h-1zM351 515h1v1h-1zM352 515h1v1h-1zM353 515h1v1h-1zM357 515h1v1h-1zM358 514h1v1h-1zM359 514h1v1h-1zM363 514h1v1h-1zM364 514h1v1h-1zM365 514h1v1h-1zM369 515h1v1h-1zM370 515h1v1h-1zM371 515h1v1h-1zM375 517h1v1h-1zM376 518h1v1h-1zM377 518h1v1h-1zM381 521h1v1h-1zM382 521h1v1h-1zM383 522h1v1h-1zM387 524h1v1h-1zM388 524h1v1h-1zM389 525h1v1h-1zM393 527h1v1h-1zM394 527h1v1h-1zM395 528h1v1h-1zM399 529h1v1h-1zM400 529h1v1h-1zM401 529h1v1h-1zM405 531h1v1h-1zM406 531h1v1h-1zM407 532h1v1h-1zM411 533h1v1h-1zM412 533h1v1h-1zM413 533h1v1h-1zM417 533h1v1h-1zM418 534h1v1h-1zM419 534h1v1h-1zM423 533h1v1h-1zM424 533h1v1h-1zM425 533h1v1h-1zM429 533h1v1h-1zM430 534h1v1h-1zM431 534h1v1h-1zM435 535h1v1h-1zM436 535h1v1h-1zM437 535h1v1h-1zM441 536h1v1h-1zM442 536h1v1h-1zM443 537h1v1h-1zM447 538h1v1h-1zM448 538h1v1h-1zM449 538h1v1h-1zM453 539h1v1h-1zM454 540h1v1h-1zM455 540h1v1h-1zM459 540h1v1h-1zM460 540h1v1h-1zM461 540h1v1h-1zM465 541h1v1h-1zM466 541h1v1h-1zM467 541h1v1h-1zM471 540h1v1h-1zM472 540h1v1h-1zM473 540h1v1h-1zM477 541h1v1h-1zM478 541h1v1h-1zM479 541h1v1h-1zM483 542h1v1h-1zM484 542h1v1h-1zM485 542h1v1h-1zM489 541h1v1h-1zM490 541h1v1h-1zM491 541h1v1h-1zM495 541h1v1h-1zM496 541h1v1h-1zM497 541h1v1h-1zM501 540h1v1h-1zM502 539h1v1h-1zM503 539h1v1h-1zM507 539h1v1h-1zM508 539h1v1h-1zM509 539h1v1h-1zM513 539h1v1h-1zM514 539h1v1h-1zM515 539h1v1h-1zM519 538h1v1h-1zM520 538h1v1h-1zM521 537h1v1h-1zM525 535h1v1h-1zM526 535h1v1h-1zM527 534h1v1h-1zM531 532h1v1h-1zM532 532h1v1h-1zM533 531h1v1h-1zM537 530h1v1h-1zM538 529h1v1h-1zM539 529h1v1h-1zM543 529h1v1h-1zM544 529h1v1h-1zM545 529h1v1h-1zM549 529h1v1h-1zM550 530h1v1h-1zM551 530h1v1h-1zM555 530h1v1h-1zM556 530h1v1h-1zM557 530h1v1h-1zM561 531h1v1h-1zM562 532h1v1h-1zM563 532h1v1h-1zM567 532h1v1h-1zM568 532h1v1h-1zM569 532h1v1h-1zM573 532h1v1h-1zM574 532h1v1h-1zM575 532h1v1h-1zM579 532h1v1h-1zM580 532h1v1h-1zM581 532h1v1h-1zM585 532h1v1h-1zM586 533h1v1h-1zM587 533h1v1h-1zM591 534h1v1h-1zM592 534h1v1h-1zM593 535h1v1h-1zM597 537h1v1h-1zM598 538h1v1h-1zM599 539h1v1h-1zM603 542h1v1h-1zM604 543h1v1h-1zM605 544h1v1h-1zM608 548h1v1h-1zM609 549h1v1h-1zM609 550h1v1h-1zM613 554h1v1h-1zM614 555h1v1h-1zM615 556h1v1h-1zM618 560h1v1h-1zM619 561h1v1h-1zM620 562h1v1h-1zM624 566h1v1h-1zM625 566h1v1h-1zM626 567h1v1h-1zM630 569h1v1h-1zM631 570h1v1h-1zM632 570h1v1h-1zM636 571h1v1h-1zM637 571h1v1h-1zM638 570h1v1h-1zM642 570h1v1h-1zM643 570h1v1h-1zM644 570h1v1h-1zM648 570h1v1h-1zM649 570h1v1h-1zM650 569h1v1h-1zM654 569h1v1h-1zM655 569h1v1h-1zM656 569h1v1h-1zM660 569h1v1h-1zM661 569h1v1h-1zM662 570h1v1h-1zM666 570h1v1h-1zM667 570h1v1h-1zM668 570h1v1h-1zM672 571h1v1h-1zM673 571h1v1h-1zM674 571h1v1h-1zM678 572h1v1h-1zM679 572h1v1h-1zM680 572h1v1h-1zM684 571h1v1h-1zM685 571h1v1h-1zM686 571h1v1h-1zM690 570h1v1h-1zM691 569h1v1h-1zM692 569h1v1h-1zM696 567h1v1h-1zM697 567h1v1h-1zM698 566h1v1h-1zM702 566h1v1h-1zM703 566h1v1h-1zM704 566h1v1h-1zM708 565h1v1h-1zM709 565h1v1h-1zM710 564h1v1h-1zM714 564h1v1h-1zM715 564h1v1h-1zM716 564h1v1h-1zM720 563h1v1h-1zM721 563h1v1h-1zM722 563h1v1h-1zM726 563h1v1h-1zM727 563h1v1h-1zM728 563h1v1h-1zM732 565h1v1h-1zM733 566h1v1h-1zM734 566h1v1h-1z"/>
<g fill="#000" shape-rendering="crispEdges">
<rect x="2" y="2" width="759" height="1"/><rect x="2" y="461" width="759" height="1"/>
<rect x="2" y="2" width="1" height="460"/><rect x="760" y="2" width="1" height="460"/>
<rect x="2" y="463" width="759" height="1"/><rect x="2" y="579" width="759" height="1"/>
<rect x="2" y="463" width="1" height="117"/><rect x="760" y="463" width="1" height="117"/>
</g>
<path d="M6 9h7l-3.5 4z" fill="#000" shape-rendering="crispEdges"/>
<text x="18.15" y="13.50" font-size="10.0" textLength="53.70" lengthAdjust="spacingAndGlyphs" fill="#000" stroke="#000" stroke-width="0.25">EURUSD,H1</text>
<text x="78.15" y="13.50" font-size="10.0" textLength="28.05" lengthAdjust="spacingAndGlyphs" fill="#000" stroke="#000" stroke-width="0.25">1.1257</text>
<text x="110.00" y="13.50" font-size="10.0" textLength="27.50" lengthAdjust="spacingAndGlyphs" fill="#000" stroke="#000" stroke-width="0.25">1.1261</text>
<text x="140.20" y="13.50" font-size="10.0" textLength="27.80" lengthAdjust="spacingAndGlyphs" fill="#000" stroke="#000" stroke-width="0.25">1.1250</text>
<text x="170.90" y="13.50" font-size="10.0" textLength="28.00" lengthAdjust="spacingAndGlyphs" fill="#000" stroke="#000" stroke-width="0.25">1.1251</text>
<text x="7.50" y="475.50" font-size="10.0" textLength="60.85" lengthAdjust="spacingAndGlyphs" fill="#000" stroke="#000" stroke-width="0.25">MACD(5,34,5)</text>
<text x="70.50" y="475.50" font-size="10.0" textLength="37.20" lengthAdjust="spacingAndGlyphs" fill="#000" stroke="#000" stroke-width="0.25">-0.00393</text>
<text x="109.40" y="475.50" font-size="10.0" textLength="37.20" lengthAdjust="spacingAndGlyphs" fill="#000" stroke="#000" stroke-width="0.25">-0.00299</text>
<rect x="761" y="22" width="2" height="1" fill="#000" shape-rendering="crispEdges"/>
<text x="766.00" y="25.50" font-size="10.0" textLength="28.35" lengthAdjust="spacingAndGlyphs" fill="#000" stroke="#000" stroke-width="0.25">1.1435</text>
<rect x="761" y="58" width="2" height="1" fill="#000" shape-rendering="crispEdges"/>
<text x="766.00" y="61.50" font-size="10.0" textLength="28.35" lengthAdjust="spacingAndGlyphs" fill="#000" stroke="#000" stroke-width="0.25">1.1405</text>
<rect x="761" y="94" width="2" height="1" fill="#000" shape-rendering="crispEdges"/>
<text x="766.00" y="97.50" font-size="10.0" textLength="28.35" lengthAdjust="spacingAndGlyphs" fill="#000" stroke="#000" stroke-width="0.25">1.1375</text>
<rect x="761" y="130" width="2" height="1" fill="#000" shape-rendering="crispEdges"/>
<text x="766.00" y="133.50" font-size="10.0" textLength="28.35" lengthAdjust="spacingAndGlyphs" fill="#000" stroke="#000" stroke-width="0.25">1.1345</text>
<rect x="761" y="166" width="2" height="1" fill="#000" shape-rendering="crispEdges"/>
<text x="766.00" y="169.50" font-size="10.0" textLength="28.35" lengthAdjust="spacingAndGlyphs" fill="#000" stroke="#000" stroke-width="0.25">1.1315</text>
<rect x="761" y="202" width="2" height="1" fill="#000" shape-rendering="crispEdges"/>
<text x="766.00" y="205.50" font-size="10.0" textLength="28.35" lengthAdjust="spacingAndGlyphs" fill="#000" stroke="#000" stroke-width="0.25">1.1285</text>
<rect x="761" y="238" width="2" height="1" fill="#000" shape-rendering="crispEdges"/>
<text x="766.00" y="241.50" font-size="10.0" textLength="28.35" lengthAdjust="spacingAndGlyphs" fill="#000" stroke="#000" stroke-width="0.25">1.1255</text>
<rect x="761" y="274" width="2" height="1" fill="#000" shape-rendering="crispEdges"/>
<text x="766.00" y="277.50" font-size="10.0" textLength="28.35" lengthAdjust="spacingAndGlyphs" fill="#000" stroke="#000" stroke-width="0.25">1.1225</text>
<rect x="761" y="310" width="2" height="1" fill="#000" shape-rendering="crispEdges"/>
<text x="766.00" y="313.50" font-size="10.0" textLength="28.35" lengthAdjust="spacingAndGlyphs" fill="#000" stroke="#000" stroke-width="0.25">1.1195</text>
<rect x="761" y="346" width="2" height="1" fill="#000" shape-rendering="crispEdges"/>
<text x="766.00" y="349.50" font-size="10.0" textLength="28.35" lengthAdjust="spacingAndGlyphs" fill="#000" stroke="#000" stroke-width="0.25">1.1165</text>
<rect x="761" y="382" width="2" height="1" fill="#000" shape-rendering="crispEdges"/>
<text x="766.00" y="385.50" font-size="10.0" textLength="28.35" lengthAdjust="spacingAndGlyphs" fill="#000" stroke="#000" stroke-width="0.25">1.1135</text>
<rect x="761" y="418" width="2" height="1" fill="#000" shape-rendering="crispEdges"/>
<text x="766.00" y="421.50" font-size="10.0" textLength="28.35" lengthAdjust="spacingAndGlyphs" fill="#000" stroke="#000" stroke-width="0.25">1.1105</text>
<rect x="761" y="454" width="2" height="1" fill="#000" shape-rendering="crispEdges"/>
<text x="766.00" y="457.50" font-size="10.0" textLength="28.35" lengthAdjust="spacingAndGlyphs" fill="#000" stroke="#000" stroke-width="0.25">1.1075</text>
<rect x="762" y="2" width="36" height="11" fill="#FF0000" shape-rendering="crispEdges"/>
<text x="766.00" y="10.50" font-size="10.0" textLength="28.35" lengthAdjust="spacingAndGlyphs" fill="#FFF" stroke="#FFF" stroke-width="0.25">1.1446</text>
<rect x="762" y="40" width="36" height="11" fill="#FF0000" shape-rendering="crispEdges"/>
<text x="766.00" y="48.50" font-size="10.0" textLength="28.35" lengthAdjust="spacingAndGlyphs" fill="#FFF" stroke="#FFF" stroke-width="0.25">1.1415</text>
<rect x="762" y="118" width="36" height="11" fill="#FF0000" shape-rendering="crispEdges"/>
<text x="766.00" y="126.50" font-size="10.0" textLength="28.35" lengthAdjust="spacingAndGlyphs" fill="#FFF" stroke="#FFF" stroke-width="0.25">1.1349</text>
<rect x="762" y="207" width="36" height="11" fill="#FF0000" shape-rendering="crispEdges"/>
<text x="766.00" y="215.50" font-size="10.0" textLength="28.35" lengthAdjust="spacingAndGlyphs" fill="#FFF" stroke="#FFF" stroke-width="0.25">1.1275</text>
<rect x="762" y="275" width="36" height="11" fill="#FF0000" shape-rendering="crispEdges"/>
<text x="766.00" y="283.50" font-size="10.0" textLength="28.35" lengthAdjust="spacingAndGlyphs" fill="#FFF" stroke="#FFF" stroke-width="0.25">1.1219</text>
<rect x="762" y="375" width="36" height="11" fill="#FF0000" shape-rendering="crispEdges"/>
<text x="766.00" y="383.50" font-size="10.0" textLength="28.35" lengthAdjust="spacingAndGlyphs" fill="#FFF" stroke="#FFF" stroke-width="0.25">1.1136</text>
<rect x="762" y="423" width="36" height="11" fill="#FF0000" shape-rendering="crispEdges"/>
<text x="766.00" y="431.50" font-size="10.0" textLength="28.35" lengthAdjust="spacingAndGlyphs" fill="#FFF" stroke="#FFF" stroke-width="0.25">1.1096</text>
<rect x="762" y="238" width="36" height="11" fill="#000" shape-rendering="crispEdges"/>
<text x="766.00" y="246.50" font-size="10.0" textLength="28.35" lengthAdjust="spacingAndGlyphs" fill="#FFF" stroke="#FFF" stroke-width="0.25">1.1251</text>
<rect x="761" y="465" width="1" height="1" fill="#000" shape-rendering="crispEdges"/>
<text x="763.90" y="473.50" font-size="10.0" textLength="33.70" lengthAdjust="spacingAndGlyphs" fill="#000" stroke="#000" stroke-width="0.25">0.01216</text>
<rect x="761" y="547" width="2" height="1" fill="#000" shape-rendering="crispEdges"/>
<text x="763.70" y="550.50" font-size="10.0" textLength="18.60" lengthAdjust="spacingAndGlyphs" fill="#000" stroke="#000" stroke-width="0.25">0.00</text>
<rect x="761" y="578" width="1" height="1" fill="#000" shape-rendering="crispEdges"/>
<text x="763.40" y="575.50" font-size="10.0" textLength="32.20" lengthAdjust="spacingAndGlyphs" fill="#000" stroke="#000" stroke-width="0.25">-0.0047</text>
<rect x="3" y="580" width="1" height="3" fill="#000" shape-rendering="crispEdges"/>
<text x="2.00" y="591.50" font-size="10.0" textLength="45.20" lengthAdjust="spacingAndGlyphs" fill="#000" stroke="#000" stroke-width="0.25">1 Jun 2016</text>
<rect x="67" y="580" width="1" height="3" fill="#000" shape-rendering="crispEdges"/>
<text x="66.00" y="591.50" font-size="10.0" textLength="48.20" lengthAdjust="spacingAndGlyphs" fill="#000" stroke="#000" stroke-width="0.25">1 Jun 17:00</text>
<rect x="131" y="580" width="1" height="3" fill="#000" shape-rendering="crispEdges"/>
<text x="130.00" y="591.50" font-size="10.0" textLength="48.20" lengthAdjust="spacingAndGlyphs" fill="#000" stroke="#000" stroke-width="0.25">2 Jun 09:00</text>
<rect x="195" y="580" width="1" height="3" fill="#000" shape-rendering="crispEdges"/>
<text x="194.00" y="591.50" font-size="10.0" textLength="48.20" lengthAdjust="spacingAndGlyphs" fill="#000" stroke="#000" stroke-width="0.25">3 Jun 01:00</text>
<rect x="259" y="580" width="1" height="3" fill="#000" shape-rendering="crispEdges"/>
<text x="258.00" y="591.50" font-size="10.0" textLength="48.20" lengthAdjust="spacingAndGlyphs" fill="#000" stroke="#000" stroke-width="0.25">3 Jun 17:00</text>
<rect x="323" y="580" width="1" height="3" fill="#000" shape-rendering="crispEdges"/>
<text x="322.00" y="591.50" font-size="10.0" textLength="48.20" lengthAdjust="spacingAndGlyphs" fill="#000" stroke="#000" stroke-width="0.25">6 Jun 10:00</text>
<rect x="387" y="580" width="1" height="3" fill="#000" shape-rendering="crispEdges"/>
<text x="386.00" y="591.50" font-size="10.0" textLength="48.20" lengthAdjust="spacingAndGlyphs" fill="#000" stroke="#000" stroke-width="0.25">7 Jun 02:00</text>
<rect x="451" y="580" width="1" height="3" fill="#000" shape-rendering="crispEdges"/>
<text x="450.00" y="591.50" font-size="10.0" textLength="48.20" lengthAdjust="spacingAndGlyphs" fill="#000" stroke="#000" stroke-width="0.25">7 Jun 18:00</text>
<rect x="515" y="580" width="1" height="3" fill="#000" shape-rendering="crispEdges"/>
<text x="514.00" y="591.50" font-size="10.0" textLength="48.20" lengthAdjust="spacingAndGlyphs" fill="#000" stroke="#000" stroke-width="0.25">8 Jun 13:00</text>
<rect x="579" y="580" width="1" height="3" fill="#000" shape-rendering="crispEdges"/>
<text x="578.00" y="591.50" font-size="10.0" textLength="48.20" lengthAdjust="spacingAndGlyphs" fill="#000" stroke="#000" stroke-width="0.25">9 Jun 05:00</text>
<rect x="643" y="580" width="1" height="3" fill="#000" shape-rendering="crispEdges"/>
<text x="642.00" y="591.50" font-size="10.0" textLength="48.20" lengthAdjust="spacingAndGlyphs" fill="#000" stroke="#000" stroke-width="0.25">9 Jun 21:00</text>
<rect x="707" y="580" width="1" height="3" fill="#000" shape-rendering="crispEdges"/>
<text x="706.00" y="591.50" font-size="10.0" textLength="53.20" lengthAdjust="spacingAndGlyphs" fill="#000" stroke="#000" stroke-width="0.25">10 Jun 13:00</text>
</svg></body></html>
